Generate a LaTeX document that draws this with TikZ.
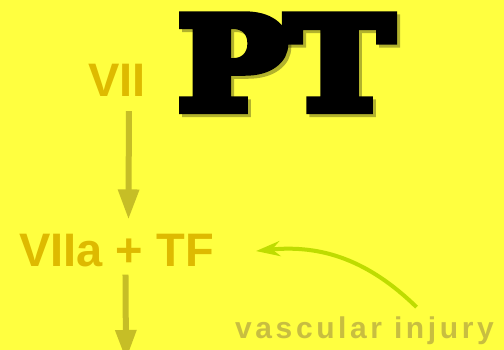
\documentclass[tikz,border=0pt]{standalone}
\usepackage{fontspec}
\usetikzlibrary{arrows.meta}
\newfontfamily\labelfont{Liberation Sans}
\newfontfamily\injuryfont[LetterSpace=12]{Liberation Sans}
\newfontfamily\bigfont[FakeBold=8]{DejaVu Serif}
\definecolor{bgyellow}{RGB}{255,255,64}
\definecolor{factorcol}{RGB}{222,186,0}
\definecolor{flowcol}{RGB}{198,190,38}
\definecolor{injurycol}{RGB}{200,190,64}
\definecolor{greencol}{RGB}{190,220,0}
\begin{document}
\begin{tikzpicture}[x=1pt,y=-1pt,
  factor/.style={font=\labelfont\bfseries\fontsize{47}{47}\selectfont,text=factorcol,inner sep=0pt,anchor=base west},
  flow/.style={draw=flowcol,line width=6pt,-{Triangle[length=30pt,width=20pt]}},
  bigtext/.style={font=\bigfont\bfseries\fontsize{127}{127}\selectfont,inner sep=0pt,anchor=base west,xscale=1.13}]
\fill[bgyellow] (0,0) rectangle (504,350);
\useasboundingbox (0,0) rectangle (504,350);
% title with shadow
\node[bigtext,text=black,opacity=0.3] (ptshadow) at (181,112) {PT};
\node[bigtext,text=black] (pt) at (178,109) {PT};
% cascade
\node[factor] (vii) at (88,97) {VII};
\node[factor] (vf) at (19,267) {VIIa + TF};
\node[font=\injuryfont\bfseries\fontsize{30}{30}\selectfont,text=injurycol,inner sep=0pt,anchor=base west] (injury) at (235,338) {vascular injury};
\coordinate (out) at (126,360);
\draw[flow] ([xshift=12pt,yshift=-14pt]vii.south) -- ([xshift=12pt,yshift=15pt]vf.north);
\draw[flow] ([xshift=9pt,yshift=-7pt]vf.south) -- (out);
\draw[draw=greencol,line width=4pt,-{Stealth[length=24pt,width=15pt]}]
  ([xshift=52pt,yshift=9pt]injury.north) to[bend right=25] ([xshift=42pt]vf.east);
\end{tikzpicture}
\end{document}
